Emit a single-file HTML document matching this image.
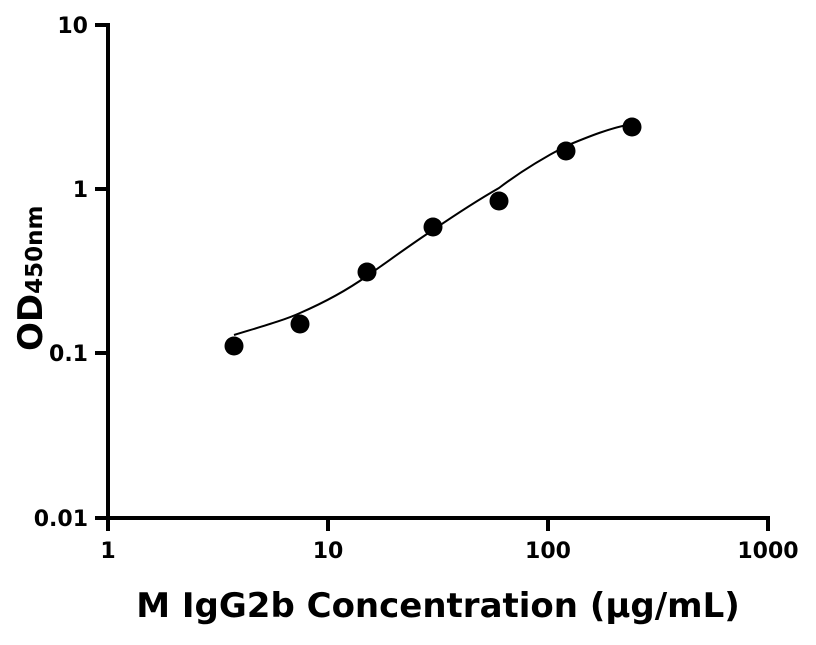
<!DOCTYPE html>
<html><head><style>body{margin:0;background:#fff}</style></head><body>
<svg width="816" height="640" viewBox="0 0 816 640" xmlns="http://www.w3.org/2000/svg" font-family="DejaVu Sans, Liberation Sans, sans-serif" font-weight="bold">
<g stroke="#000" stroke-width="4" fill="none">
<line x1="108" y1="23" x2="108" y2="520"/>
<line x1="106" y1="518" x2="770" y2="518"/>
<line x1="95" y1="25" x2="108" y2="25"/>
<line x1="95" y1="189" x2="108" y2="189"/>
<line x1="95" y1="353" x2="108" y2="353"/>
<line x1="95" y1="518" x2="108" y2="518"/>
<line x1="108" y1="518" x2="108" y2="531"/>
<line x1="328" y1="518" x2="328" y2="531"/>
<line x1="548" y1="518" x2="548" y2="531"/>
<line x1="768" y1="518" x2="768" y2="531"/>
</g>
<g font-size="22" text-anchor="end">
<text x="88" y="33">10</text>
<text x="88" y="197">1</text>
<text x="88" y="361">0.1</text>
<text x="88" y="526">0.01</text>
</g>
<g font-size="22" text-anchor="middle">
<text x="108" y="558">1</text>
<text x="328" y="558">10</text>
<text x="548" y="558">100</text>
<text x="768" y="558">1000</text>
</g>
<text x="438" y="617" font-size="34" text-anchor="middle">M IgG2b Concentration (μg/mL)</text>
<text transform="translate(42,351) rotate(-90)" font-size="34">OD<tspan font-size="23">450nm</tspan></text>
<path d="M234,335 C260,327 285,320 300,313 C330,300 350,288 367,276 C390,260 410,245 433,230 C455,215 478,200 499,188 C520,172 545,157 566,146 C590,136 610,128 632,124" stroke="#000" stroke-width="2" fill="none"/>
<g fill="#000">
<circle cx="234" cy="346" r="9.5"/>
<circle cx="300" cy="324" r="9.5"/>
<circle cx="367" cy="272" r="9.5"/>
<circle cx="433" cy="227" r="9.5"/>
<circle cx="499" cy="201" r="9.5"/>
<circle cx="566" cy="151" r="9.5"/>
<circle cx="632" cy="127" r="9.5"/>
</g>
</svg>
</body></html>
